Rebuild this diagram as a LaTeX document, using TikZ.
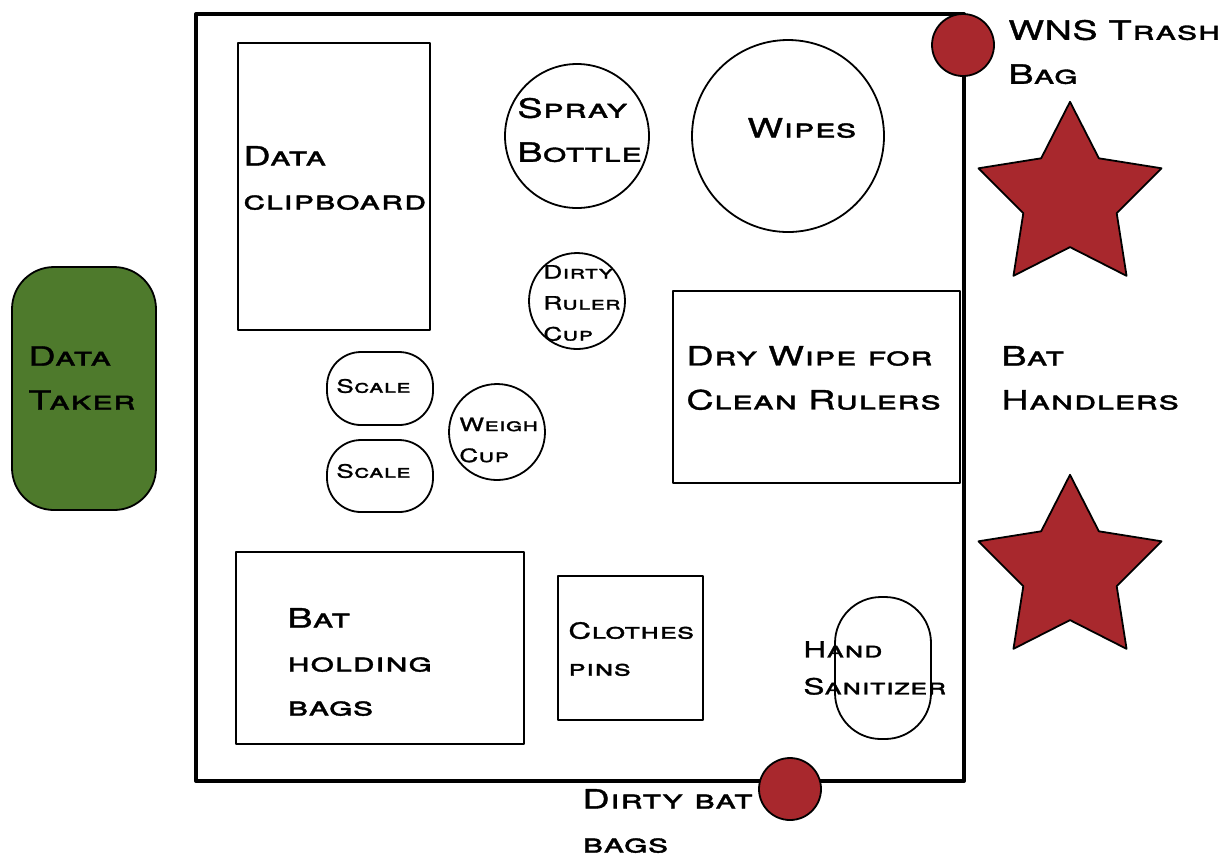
\documentclass[tikz,border=0pt]{standalone}
\usepackage{fontspec}
\setmainfont{TeX Gyre Heros}[FakeStretch=1.42, FakeBold=1.3, LetterSpace=2]
\usetikzlibrary{shapes.geometric}
\definecolor{batred}{RGB}{168, 40, 45}
\definecolor{takergreen}{RGB}{78, 122, 44}

\begin{document}
\begin{tikzpicture}[x=0.5pt, y=-0.5pt, line join=round,
    item/.style={draw, line width=0.9pt},
    redspot/.style={draw, line width=0.9pt, fill=batred},
    redstar/.style={star, star points=5, star point ratio=1.96, minimum size=96.2pt,
        inner sep=0pt, draw, line width=0.9pt, fill=batred},
    lbl/.style={anchor=west, align=left, inner sep=0pt, font=\scshape\fontsize{13.3}{22}\selectfont},
    midlbl/.style={lbl, font=\scshape\fontsize{11.1}{18.5}\selectfont},
    smalllbl/.style={lbl, font=\scshape\fontsize{9.2}{15.5}\selectfont}]
    \useasboundingbox (0,0) rectangle (1230,859);

    % Tisch
    \draw[line width=2pt] (196,14) rectangle (964,781);

    % Gegenstände auf dem Tisch
    \draw[item] (238,43) rectangle (430,330);
    \draw[item] (577,136) circle (72);
    \draw[item] (788,136) circle (96);
    \draw[item] (577,301) circle (48);
    \draw[item] (673,291) rectangle (960,483);
    \draw[item, rounded corners=17pt] (327,352) rectangle (433,425);
    \draw[item, rounded corners=17pt] (327,440) rectangle (433,512);
    \draw[item] (497,432) circle (48);
    \draw[item] (236,552) rectangle (524,744);
    \draw[item] (558,576) rectangle (703,720);
    \draw[item, rounded corners=23pt] (835,597) rectangle (931,739);

    % Personen und Beutel
    \draw[item, fill=takergreen, rounded corners=21pt] (12,267) rectangle (156,510);
    \draw[redspot] (963,45) circle (31);
    \draw[redspot] (790,789) circle (31);
    \node[redstar] (star1) at (1070,198) {};
    \node[redstar] (star2) at (1070,571) {};

    % Beschriftungen
    \node[lbl] (clipboard) at (243,178) {Data\\clipboard};
    \node[lbl] (spray) at (517,130) {Spray\\Bottle};
    \node[lbl] (wipes) at (747,128) {Wipes};
    \node[smalllbl] (ruler) at (543,303) {Dirty\\Ruler\\Cup};
    \node[lbl] (drywipe) at (686,378) {Dry Wipe for\\Clean Rulers};
    \node[smalllbl] (scale1) at (336,386) {Scale};
    \node[smalllbl] (scale2) at (336,471) {Scale};
    \node[smalllbl] (weigh) at (459,440) {Weigh\\Cup};
    \node[lbl] (holding) at (287,662) {Bat\\holding\\bags};
    \node[midlbl] (pins) at (568,649) {Clothes\\pins};
    \node[midlbl] (sanitizer) at (803,668) {Hand\\Sanitizer};
    \node[lbl] (taker) at (28,378) {Data\\Taker};
    \node[lbl] (trash) at (1008,52) {WNS Trash\\Bag};
    \node[lbl] (handlers) at (1001,378) {Bat\\Handlers};
    \node[lbl] (dirtybags) at (582,821) {Dirty bat\\bags};
\end{tikzpicture}
\end{document}
